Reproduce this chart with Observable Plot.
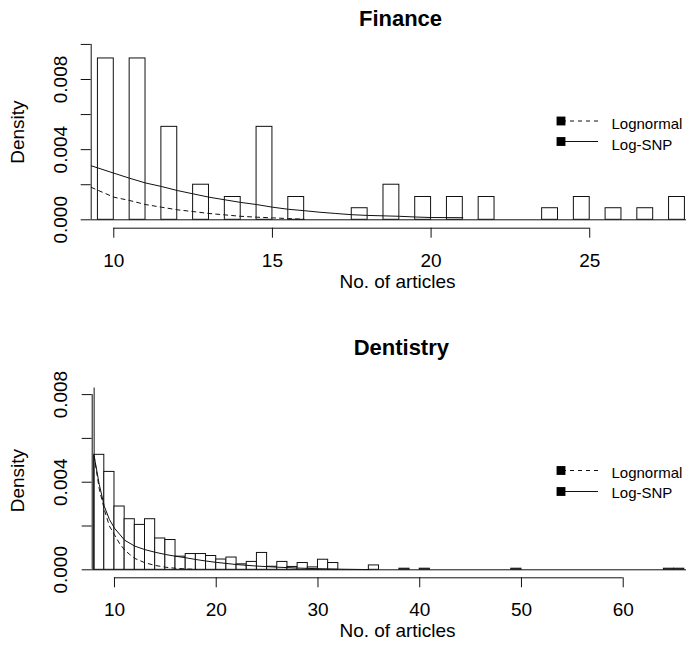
<!DOCTYPE html>
<html><head><meta charset="utf-8">
<script src="https://cdn.jsdelivr.net/npm/d3@7"></script>
<script src="https://cdn.jsdelivr.net/npm/@observablehq/plot@0.6"></script>
<style>
html,body{margin:0;padding:0;background:#fff;}
#chart{width:686px;height:652px;overflow:hidden;}
#chart svg{display:block;}
</style></head><body><div id="chart"></div>
<script>
// ---------- Finance ----------
const financeTitle = "Finance";
const financeBinStart = [9.5,10.5,11.5,12.5,13.5,14.5,15.5,17.5,18.5,19.5,20.5,21.5,23.5,24.5,25.5,26.5,27.5];
const financeBinWidth = 0.5;
const financeDensity = [0.0092,0.0092,0.0053,0.0020,0.0013,0.0053,0.0013,0.00066,0.0020,0.0013,0.0013,0.0013,0.00066,0.0013,0.00066,0.00066,0.0013];
const financeSnpX = [9.29,10,10.5,11,11.5,12,12.5,13,13.5,14,14.5,15,15.5,16,16.5,17,17.5,18,19,19.5,20,21];
const financeSnpY = [0.00308,0.00266,0.00237,0.0021,0.0019,0.00167,0.00148,0.00129,0.00114,0.00099,0.00087,0.00072,0.0006,0.00052,0.00043,0.00036,0.00029,0.00025,0.0002,0.00016,0.00013,0.00012];
const financeLnX = [9.29,10,10.5,11,11.5,12,12.5,13,13.5,14,14.5,15,15.5,16];
const financeLnY = [0.00185,0.00129,0.0011,0.00087,0.00072,0.00057,0.00047,0.00036,0.00028,0.0002,0.00015,0.00011,0.00007,0.00003];
const financeXTicks = [10,15,20,25];
const financeYTicks = [0,0.002,0.004,0.006,0.008,0.010];
const financeYLabels = [0,0.004,0.008];

// ---------- Dentistry ----------
const dentistryTitle = "Dentistry";
const dentistryBinStart = [8,9,10,11,12,13,14,15,16,17,18,19,20,21,22,23,24,25,26,27,28,29,30,31,35,38,40,49,64,65];
const dentistryBinWidth = 1;
const dentistryDensity = [0.00525,0.00447,0.00289,0.00231,0.00205,0.00231,0.00143,0.00136,0.0006,0.00072,0.00072,0.00063,0.00047,0.00056,0.00025,0.00036,0.00077,0.00014,0.00036,0.00013,0.00031,0.00011,0.00046,0.00031,0.0002,0.00005,0.00005,0.00005,0.00005,0.00005];
const dentistrySnpX = [8,8.5,9,9.5,10,11,12,13,14,15,16,17,18,19,20,22,24,26,28,30,32,35];
const dentistrySnpY = [0.0052,0.0039,0.0029,0.0023,0.0019,0.00135,0.00108,0.00092,0.0008,0.0007,0.00062,0.00055,0.00047,0.0004,0.00034,0.00024,0.00017,0.00012,0.00008,0.00005,0.00003,0.00001];
const dentistryLnX = [8,8.5,9,9.5,10,10.5,11,11.5,12,13,14,15,16,17,18];
const dentistryLnY = [0.0052,0.0037,0.00275,0.002,0.0016,0.0012,0.0009,0.0007,0.00052,0.00032,0.0002,0.00012,0.00007,0.00004,0.00002];
const dentistrySpikeX = [8];
const dentistrySpikeY = [0.0083];
const dentistryXTicks = [10,20,30,40,50,60];
const dentistryYTicks = [0,0.002,0.004,0.006,0.008];
const dentistryYLabels = [0,0.004,0.008];

// ---------- shared text ----------
const xAxisTitle = "No. of articles";
const yAxisTitle = "Density";
const legendLabels = ["Lognormal","Log-SNP"];

const FONT = "'Liberation Sans', Arial, Helvetica, sans-serif";
const W = 686, H = 326;
const fmt = d3.format(".3f");
const INK = "#111";

function panel(o) {
  const xs = d3.scaleLinear(o.xDomain, [o.ml, W - o.mr]);
  const ys = d3.scaleLinear(o.yDomain, [H - o.mb, o.mt]);
  const bars = o.binStart.map((x0, i) => ({x1: x0, x2: x0 + o.binWidth, y: o.density[i]}));
  const snp = o.snpX.map((x, i) => ({x, y: o.snpY[i]}));
  const ln = o.lnX.map((x, i) => ({x, y: o.lnY[i]}));
  const midX = (o.ml + W - o.mr) / 2;
  const dashes = ["4,4", null];
  const legendMarks = legendLabels.flatMap((label, i) => {
    const yq = ys.invert(o.legSquareY[i]);
    const yt = ys.invert(o.legTextY[i]);
    return [
      Plot.ruleY([yq], {x1: xs.invert(562), x2: xs.invert(598), stroke: INK, strokeWidth: 1, strokeDasharray: dashes[i] || undefined}),
      Plot.dot([label], {x: xs.invert(560.5), y: yq, symbol: "square", r: 5, fill: "#000", stroke: "none"}),
      Plot.text([label], {x: xs.invert(611), y: yt, text: d => d, textAnchor: "start", lineAnchor: "middle", fontSize: 15, fill: "#000"})
    ];
  });
  const spike = o.spikeX ? [Plot.ruleX(o.spikeX.map((x, i) => ({x, y: o.spikeY[i]})), {x: "x", y1: 0, y2: "y", stroke: INK, strokeWidth: 1})] : [];
  return Plot.plot({
    width: W, height: H,
    marginLeft: o.ml, marginRight: o.mr, marginTop: o.mt, marginBottom: o.mb,
    style: {fontFamily: FONT, fontSize: "19px", background: "white", color: "#000", overflow: "visible"},
    x: {domain: o.xDomain, label: null},
    y: {domain: o.yDomain, label: null},
    marks: [
      Plot.ruleY([0], {stroke: INK, strokeWidth: 1}),
      Plot.rect(bars, {x1: "x1", x2: "x2", y1: 0, y2: "y", fill: "white", stroke: INK, strokeWidth: 1}),
      ...spike,
      Plot.line(snp, {x: "x", y: "y", stroke: INK, strokeWidth: 1}),
      Plot.line(ln, {x: "x", y: "y", stroke: INK, strokeWidth: 1, strokeDasharray: "4,4"}),
      // y axis
      Plot.ruleX([o.xDomain[0]], {y1: o.yTicks[0], y2: o.yTicks[o.yTicks.length - 1], stroke: INK}),
      Plot.axisY(o.yTicks, {tickSize: 10, tickFormat: () => "", label: null, stroke: INK}),
      Plot.text(o.yLabels, {y: d => d, text: d => fmt(d), frameAnchor: "left", rotate: -90, textAnchor: "middle", lineAnchor: "middle", dx: o.yLabelDx, fontSize: 19, fill: "#000"}),
      Plot.text([yAxisTitle], {frameAnchor: "left", text: d => d, rotate: -90, textAnchor: "middle", lineAnchor: "middle", dx: o.yTitleDx, dy: o.yTitleDy, fontSize: 19, fill: "#000"}),
      // x axis
      Plot.ruleY([o.yDomain[0]], {x1: o.xTicks[0], x2: o.xTicks[o.xTicks.length - 1], stroke: INK}),
      Plot.axisX(o.xTicks, {tickSize: 10, tickPadding: 15, fontSize: 19, label: null, stroke: INK, fill: "#000"}),
      Plot.text([xAxisTitle], {frameAnchor: "bottom", text: d => d, lineAnchor: "middle", dx: 397 - midX, dy: o.xTitleDy, fontSize: 19, fill: "#000"}),
      // title
      Plot.text([o.title], {frameAnchor: "top", text: d => d, lineAnchor: "middle", dx: o.titleX - midX, dy: o.titleDy, fontSize: 22, fontWeight: "bold", fill: "#000"}),
      ...legendMarks
    ]
  });
}

const chart = document.getElementById("chart");
chart.appendChild(panel({
  title: financeTitle, titleX: 400, titleDy: -22.4,
  xDomain: [9.288, 28.05], yDomain: [-0.000479, 0.010201],
  ml: 90.7, mr: 0, mt: 40.4, mb: 98.3,
  binStart: financeBinStart, binWidth: financeBinWidth, density: financeDensity,
  snpX: financeSnpX, snpY: financeSnpY, lnX: financeLnX, lnY: financeLnY,
  xTicks: financeXTicks, yTicks: financeYTicks, yLabels: financeYLabels,
  yLabelDx: -30.1, yTitleDx: -73.7, yTitleDy: -2.4, xTitleDy: 54,
  legSquareY: [120.5, 141], legTextY: [124, 144.3]
}));
chart.appendChild(panel({
  title: dentistryTitle, titleX: 400.8, titleDy: -35.7,
  xDomain: [7.81, 66.22], yDomain: [-0.000365, 0.008507],
  ml: 91.7, mr: 0, mt: 57, mb: 74.7,
  binStart: dentistryBinStart, binWidth: dentistryBinWidth, density: dentistryDensity,
  snpX: dentistrySnpX, snpY: dentistrySnpY, lnX: dentistryLnX, lnY: dentistryLnY,
  spikeX: dentistrySpikeX, spikeY: dentistrySpikeY,
  xTicks: dentistryXTicks, yTicks: dentistryYTicks, yLabels: dentistryYLabels,
  yLabelDx: -31.1, yTitleDx: -74.7, yTitleDy: 0, xTitleDy: 52.7,
  legSquareY: [144, 165], legTextY: [147, 166.5]
}));
</script>
</body></html>
